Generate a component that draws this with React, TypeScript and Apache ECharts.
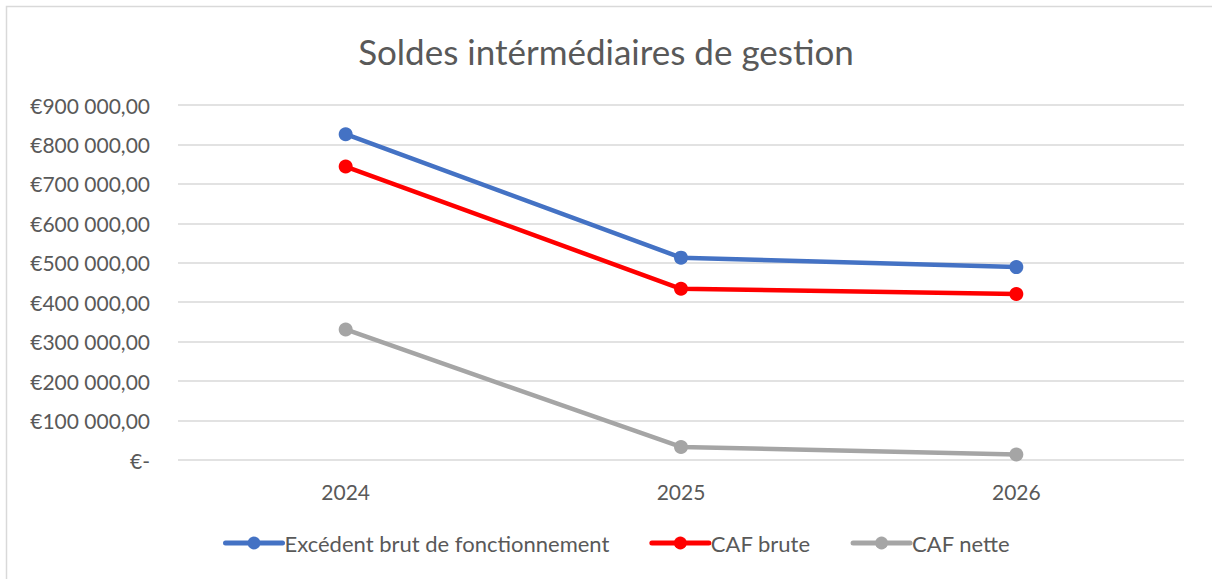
import React, { useEffect, useRef } from "react";
import * as echarts from "echarts";

const categories = ["2024", "2025", "2026"];
const ebf = [826000, 513000, 489000];
const cafBrute = [744000, 434000, 421000];
const cafNette = [331000, 33000, 14000];
const seriesNames = ["Excédent brut de fonctionnement", "CAF brute", "CAF nette"];
const colors = ["#4472C4", "#FF0000", "#A5A5A5"];

const FONT = "Lato";

function fmt(v: number): string {
  if (v === 0) return "€-";
  const s = Math.round(v).toString().replace(/\B(?=(\d{3})+(?!\d))/g, " ");
  return "€" + s + ",00";
}

export default function App() {
  const ref = useRef<HTMLDivElement>(null);
  useEffect(() => {
    if (!ref.current) return;
    const chart = echarts.init(ref.current, undefined, { renderer: "svg" });
    const data = [ebf, cafBrute, cafNette];
    chart.setOption({
      animation: false,
      backgroundColor: "#ffffff",
      title: {
        text: "Soldes intérmédiaires de gestion",
        left: "center",
        top: 28,
        textStyle: { fontFamily: FONT, fontSize: 35, fontWeight: "normal", color: "#595959" },
      },
      graphic: [
        {
          type: "rect",
          shape: { x: 6.5, y: 6.5, width: 1230, height: 620 },
          style: { fill: "none", stroke: "#d9d9d9", lineWidth: 1.5 },
          silent: true,
        },
      ],
      legend: {
        bottom: 20,
        left: 218,
        itemWidth: 57,
        itemHeight: 16,
        itemGap: 40,
        lineStyle: { width: 5, cap: "round" },
        textStyle: { fontFamily: FONT, fontSize: 22, color: "#595959", padding: [0, 0, 0, -3] },
        data: seriesNames,
      },
      grid: { left: 178, right: 28, top: 105, bottom: 119, containLabel: false },
      xAxis: {
        type: "category",
        data: categories,
        boundaryGap: true,
        axisLine: { show: false },
        axisTick: { show: false },
        axisLabel: { fontFamily: FONT, fontSize: 21, color: "#595959", margin: 21 },
      },
      yAxis: {
        type: "value",
        min: 0,
        max: 900000,
        interval: 100000,
        axisLine: { show: false },
        axisTick: { show: false },
        splitLine: { lineStyle: { color: "#d9d9d9", width: 1.5 } },
        axisLabel: { fontFamily: FONT, fontSize: 21, color: "#595959", margin: 28, formatter: fmt },
      },
      series: seriesNames.map((name, i) => ({
        name,
        type: "line",
        data: data[i],
        symbol: "circle",
        symbolSize: 14,
        lineStyle: { width: 4.5, color: colors[i], cap: "round" },
        itemStyle: { color: colors[i] },
      })),
    });
    return () => chart.dispose();
  }, []);
  return (
    <div
      ref={ref}
      style={{ position: "absolute", left: 0, top: 0, width: 1212, height: 579 }}
    />
  );
}
